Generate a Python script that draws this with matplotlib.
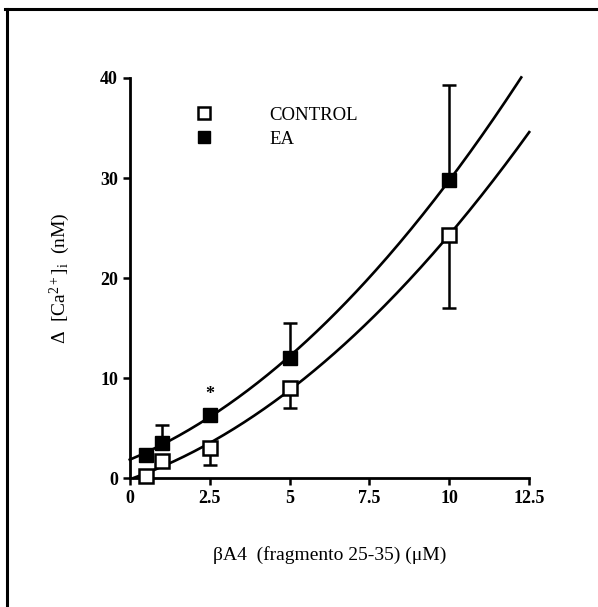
import numpy as np
import matplotlib.pyplot as plt
from matplotlib.lines import Line2D

# concentrations of bA4 (uM)
conc = [0.5, 1, 2.5, 5, 10]

# delta [Ca2+]i (nM)
control = [0.2, 1.7, 3.0, 9.0, 24.3]
control_err = [0.0, 0.0, 1.7, 2.0, 7.3]   # drawn downward only
ea = [2.3, 3.5, 6.3, 12.0, 29.8]
ea_err = [0.0, 1.8, 0.0, 3.5, 9.5]        # drawn upward only

x_ticks = [0, 2.5, 5, 7.5, 10, 12.5]
x_ticklabels = ["0", "2.5", "5", "7.5", "10", "12.5"]
y_ticks = [0, 10, 20, 30, 40]

plt.rcParams['font.family'] = ['Liberation Serif', 'DejaVu Serif']
plt.rcParams['mathtext.fontset'] = 'custom'
plt.rcParams['mathtext.rm'] = 'Liberation Serif'
plt.rcParams['mathtext.it'] = 'Liberation Serif:italic'

fig = plt.figure(figsize=(5.98, 6.07), dpi=100)
ax = fig.add_axes([0.217, 0.2125, 0.668, 0.659])

# frame lines of the scanned page (top and left only)
fig.add_artist(Line2D([0.008, 1.0], [0.985, 0.985], color='black', lw=2.2))
fig.add_artist(Line2D([0.012, 0.012], [0.0, 0.985], color='black', lw=2.2))

# quadratic fits drawn as smooth curves
c_fit = np.polyfit(conc, control, 2)
e_fit = np.polyfit(conc, ea, 2)
xc = np.linspace(0, 12.5, 200)
xe = np.linspace(0, 12.25, 200)
yc = np.polyval(c_fit, xc)
ye = np.polyval(e_fit, xe)
mask = yc >= 0
ax.plot(xc[mask], yc[mask], color='black', lw=1.9, clip_on=False, zorder=2)
ax.plot(xe, ye, color='black', lw=1.9, clip_on=False, zorder=2)

# error bars (one-sided)
ax.errorbar(conc, ea, yerr=[np.zeros(len(ea)), ea_err], fmt='none',
            ecolor='black', elinewidth=1.8, capsize=5, capthick=1.8, clip_on=False, zorder=3)
ax.errorbar(conc, control, yerr=[control_err, np.zeros(len(control))], fmt='none',
            ecolor='black', elinewidth=1.8, capsize=5, capthick=1.8, clip_on=False, zorder=3)

ax.plot(conc, ea, 's', color='black', ms=10, clip_on=False, zorder=4, label='EA')
ax.plot(conc, control, 's', mfc='white', mec='black', mew=1.8, ms=10,
        clip_on=False, zorder=5, label='CONTROL')

ax.text(2.5, 7.5, '*', ha='center', va='bottom', fontsize=13, fontweight='bold')

ax.set_xlim(0, 12.5)
ax.set_ylim(0, 40)
ax.set_xticks(x_ticks)
ax.set_xticklabels(x_ticklabels)
ax.set_yticks(y_ticks)
ax.tick_params(direction='out', length=5, width=1.8, labelsize=13)
for lbl in ax.get_xticklabels() + ax.get_yticklabels():
    lbl.set_fontweight('bold')

for s in ['top', 'right']:
    ax.spines[s].set_visible(False)
ax.spines['left'].set_linewidth(2)
ax.spines['bottom'].set_linewidth(2)

ax.set_xlabel('βA4  (fragmento 25-35) (μM)', fontsize=14, labelpad=28)
ax.set_ylabel('Δ  [Ca$^{2+}$]$_{\\rm i}$  (nM)', fontsize=14, labelpad=20)

handles, labels = ax.get_legend_handles_labels()
ax.legend(handles[::-1], labels[::-1], loc='upper left', bbox_to_anchor=(0.12, 0.97),
          frameon=False, handletextpad=3.0, fontsize=13.5, labelspacing=0.35,
          handlelength=1.0, markerscale=0.85)

fig.savefig('out.png', dpi=100)
